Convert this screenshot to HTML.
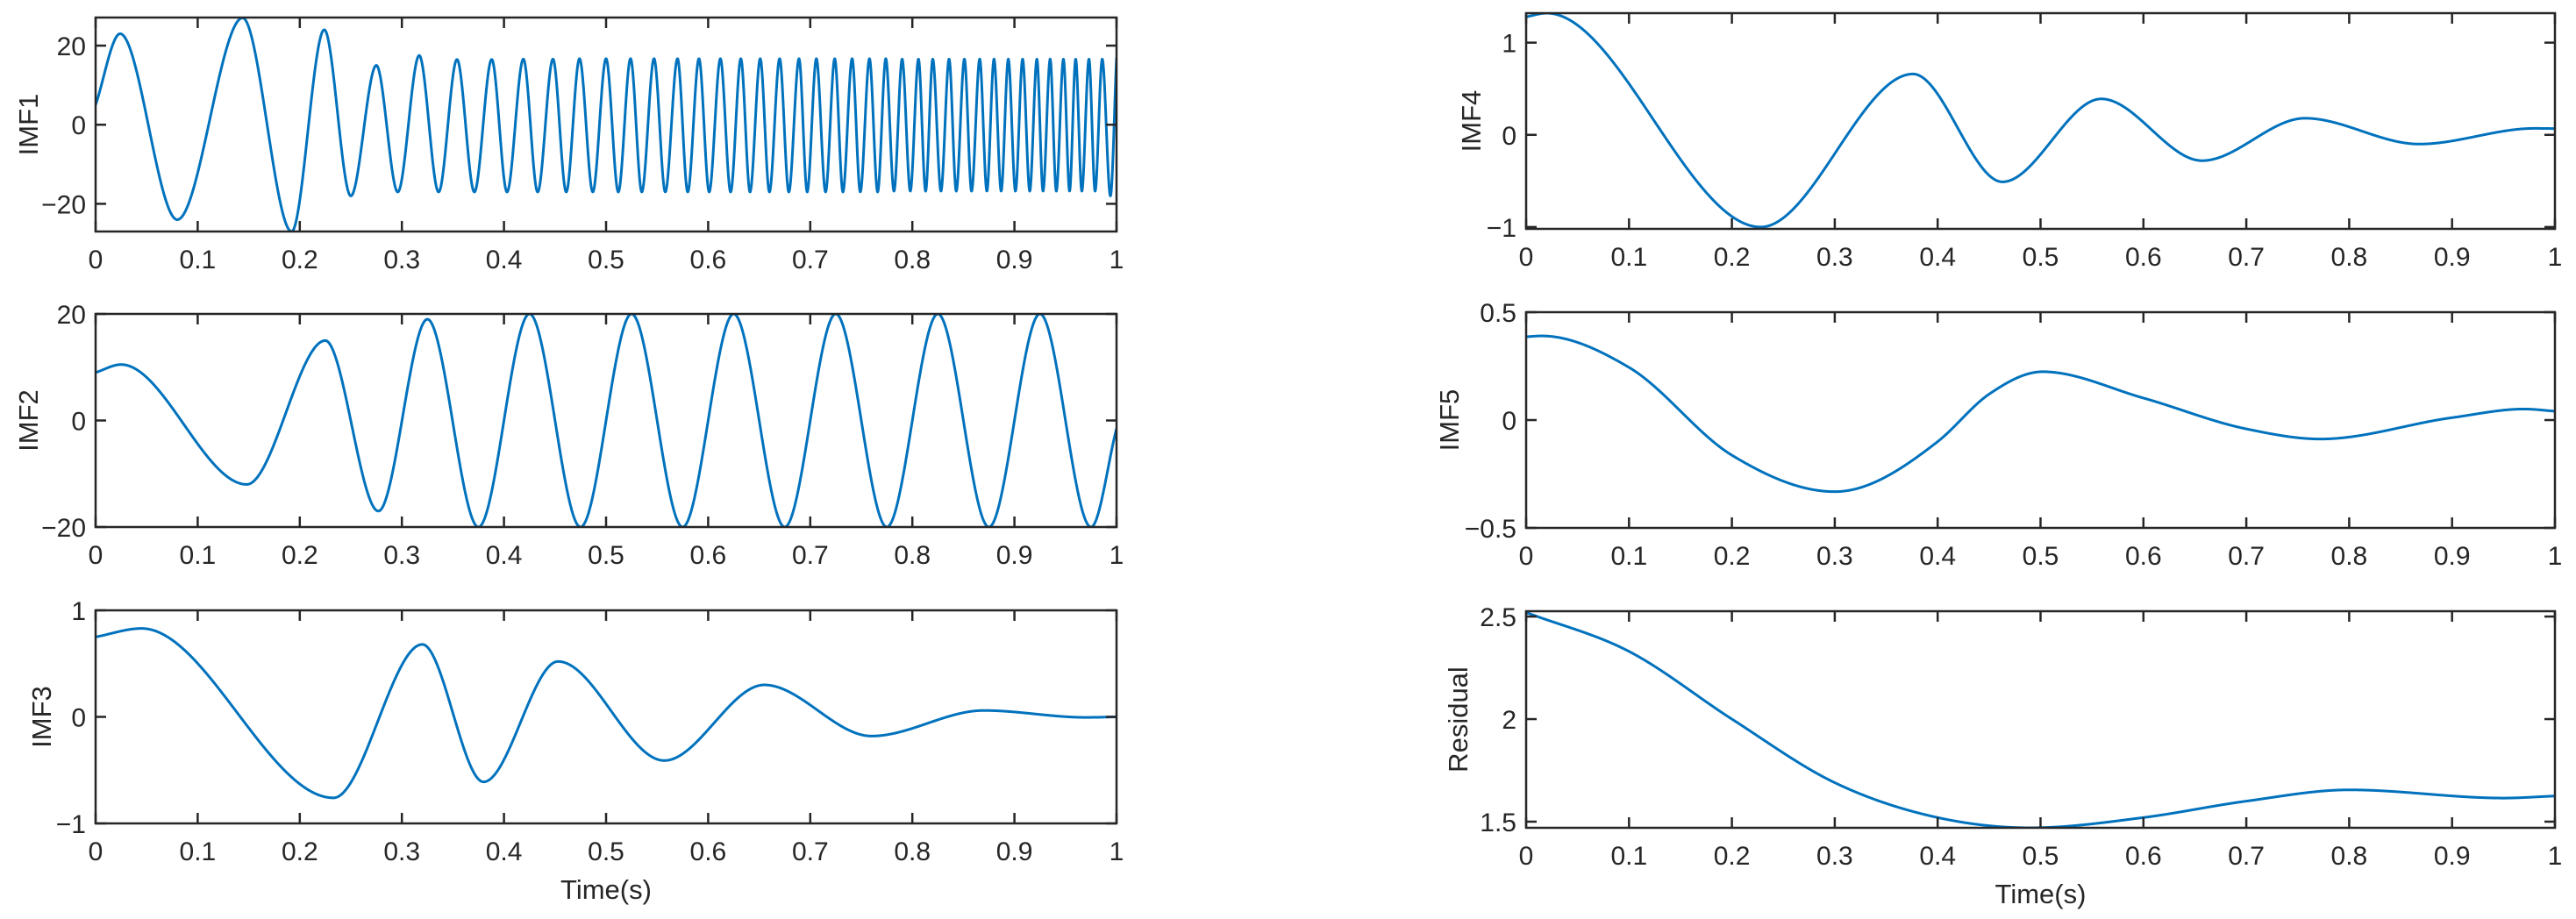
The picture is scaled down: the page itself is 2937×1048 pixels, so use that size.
<!DOCTYPE html>
<html><head><meta charset="utf-8">
<style>
html,body{margin:0;padding:0;background:#fff;}
svg{display:block;}
text{font-family:"Liberation Sans",Arial,sans-serif;fill:#262626;}
</style></head>
<body>
<svg id="fig" width="2937" height="1048" viewBox="0 0 2937 1048" xmlns="http://www.w3.org/2000/svg"></svg>
<script>
// ---- data (extrema and key points) ----
const xTicks = [0,0.1,0.2,0.3,0.4,0.5,0.6,0.7,0.8,0.9,1];
const xTickLabels = ["0","0.1","0.2","0.3","0.4","0.5","0.6","0.7","0.8","0.9","1"];

const imf1PeakT = [0.024,0.144,0.224,0.275,0.317,0.354,0.388,0.419,0.448,0.474,0.500,0.524,0.547,0.570,0.591,0.612,0.632,0.651,0.670,0.689,0.706,0.724,0.741,0.758,0.774,0.790,0.806,0.820,0.836,0.851,0.866,0.880,0.894,0.908,0.922,0.935,0.948,0.960,0.973,0.986];
const imf1PeakV = [23,27,24,15,17.5,16.5,16.5,16.6,16.6,16.7,16.7,16.7,16.7,16.7,16.7,16.7,16.7,16.7,16.7,16.7,16.7,16.7,16.7,16.7,16.7,16.6,16.6,16.6,16.6,16.6,16.6,16.6,16.6,16.6,16.6,16.6,16.6,16.6,16.6,16.6];
const imf1TroughT = [0.080,0.192,0.250,0.296,0.336,0.371,0.403,0.433,0.461,0.487,0.512,0.535,0.558,0.580,0.601,0.622,0.641,0.660,0.679,0.697,0.715,0.732,0.749,0.766,0.782,0.798,0.813,0.828,0.843,0.858,0.873,0.887,0.901,0.915,0.928,0.941,0.954,0.966,0.979,0.994];
const imf1TroughV = [-24,-27,-18,-17,-17,-17,-17,-17,-17,-17,-17,-17,-17,-17,-17,-17,-17,-17,-17,-17,-17,-17,-17,-17,-16.8,-16.8,-16.8,-16.8,-16.8,-16.8,-16.8,-16.8,-16.8,-16.8,-16.8,-16.8,-16.8,-16.8,-16.8,-18];
const imf1EndT = [0,1];
const imf1EndV = [5,17];

const imf2T = [0,0.025,0.148,0.225,0.277,0.325,0.375,0.425,0.475,0.525,0.575,0.625,0.675,0.725,0.775,0.825,0.875,0.925,0.975,1];
const imf2V = [9,10.5,-12,15,-17,19,-20,20,-20,20,-20,20,-20,20,-20,20,-20,20,-20,-1.5];

const imf3T = [0,0.045,0.233,0.320,0.380,0.453,0.557,0.655,0.760,0.870,0.97,1];
const imf3V = [0.75,0.83,-0.76,0.68,-0.61,0.52,-0.41,0.30,-0.18,0.06,-0.005,0.0];

const imf4T = [0,0.02,0.228,0.376,0.463,0.559,0.657,0.757,0.868,0.98,1];
const imf4V = [1.28,1.32,-1.0,0.66,-0.51,0.39,-0.28,0.18,-0.10,0.07,0.068];

const imf5T = [0,0.015,0.1,0.2,0.3,0.4,0.45,0.502,0.6,0.7,0.772,0.9,0.97,1];
const imf5V = [0.386,0.39,0.244,-0.163,-0.332,-0.10,0.12,0.224,0.102,-0.041,-0.088,0.011,0.051,0.041];

const resT = [0,0.1,0.2,0.3,0.4,0.49,0.6,0.7,0.8,0.95,1];
const resV = [2.52,2.33,2.0,1.69,1.52,1.47,1.52,1.60,1.655,1.615,1.625];

// ---- helpers ----
const NS="http://www.w3.org/2000/svg";
const svg=document.getElementById('fig');
function mk(tag,attrs,parent){const e=document.createElementNS(NS,tag);for(const k in attrs)e.setAttribute(k,attrs[k]);(parent||svg).appendChild(e);return e;}

function smoothCurve(ts,vs){
  const n=ts.length,d=[],m=new Array(n);
  for(let i=0;i<n-1;i++)d.push((vs[i+1]-vs[i])/(ts[i+1]-ts[i]));
  m[0]=d[0];m[n-1]=d[n-2];
  for(let i=1;i<n-1;i++){
    if(d[i-1]*d[i]<=0)m[i]=0;
    else{
      const h0=ts[i]-ts[i-1],h1=ts[i+1]-ts[i];
      let s=(d[i-1]*h1+d[i]*h0)/(h0+h1);
      const lim=3*Math.min(Math.abs(d[i-1]),Math.abs(d[i]));
      if(Math.abs(s)>lim)s=Math.sign(s)*lim;
      m[i]=s;
    }
  }
  return function(t){
    let i=0; while(i<n-2&&t>ts[i+1])i++;
    const h=ts[i+1]-ts[i],s=(t-ts[i])/h;
    const h00=2*s*s*s-3*s*s+1,h10=s*s*s-2*s*s+s,h01=-2*s*s*s+3*s*s,h11=s*s*s-s*s;
    return h00*vs[i]+h10*h*m[i]+h01*vs[i+1]+h11*h*m[i+1];
  };
}

function panel(cfg){
  const g=mk('g',{});
  
  
  const {x0,x1,y0,y1,ymin,ymax}=cfg;
  const X=t=>x0+(t-0)*(x1-x0);
  const Y=v=>y1-(v-ymin)/(ymax-ymin)*(y1-y0);
  const clipId='clip-'+cfg.name;
  const cp=mk('clipPath',{id:clipId},g);
  mk('rect',{x:x0,y:y0,width:x1-x0,height:y1-y0},cp);
  const f=smoothCurve(cfg.t,cfg.v);
  let d='';
  const steps=Math.round((x1-x0)*3);
  for(let i=0;i<=steps;i++){const t=i/steps;d+=(i?'L':'M')+X(t).toFixed(2)+' '+Y(f(t)).toFixed(2);}
  const line=mk('path',{d:d,fill:'none',stroke:'#0072BD','stroke-width':3,'stroke-linejoin':'round','clip-path':'url(#'+clipId+')'},g);
  
  
  const box=mk('rect',{x:x0,y:y0,width:x1-x0,height:y1-y0,fill:'none',stroke:'#262626','stroke-width':2.5},g);
  
  
  xTicks.forEach((t,i)=>{
    const x=X(t);
    mk('line',{x1:x,y1:y1,x2:x,y2:y1-12,stroke:'#262626','stroke-width':2.5},g);
    mk('line',{x1:x,y1:y0,x2:x,y2:y0+12,stroke:'#262626','stroke-width':2.5},g);
    const tx=mk('text',{x:x,y:y1+42,'font-size':30,'text-anchor':'middle'},g);
    tx.textContent=xTickLabels[i];
    
    
  });
  cfg.yTicks.forEach((v,i)=>{
    const y=Y(v);
    mk('line',{x1:x0,y1:y,x2:x0+12,y2:y,stroke:'#262626','stroke-width':2.5},g);
    mk('line',{x1:x1,y1:y,x2:x1-12,y2:y,stroke:'#262626','stroke-width':2.5},g);
    const ty=mk('text',{x:x0-11,y:y+11,'font-size':30,'text-anchor':'end'},g);
    ty.textContent=cfg.yTickLabels[i];
    
    
  });
  const cy=(y0+y1)/2;
  const yl=mk('text',{x:cfg.labelX,y:cy,'font-size':31,'text-anchor':'middle','transform':'rotate(-90 '+cfg.labelX+' '+cy+')','dy':11},g);
  yl.textContent=cfg.label;
  
  
  if(cfg.xlabel){
    const xl=mk('text',{x:(x0+x1)/2,y:y1+86,'font-size':31,'text-anchor':'middle'},g);
    xl.textContent=cfg.xlabel;
    
    
  }
}

const imf1Pts=[];
imf1EndT.forEach((t,i)=>imf1Pts.push([t,imf1EndV[i]]));
imf1PeakT.forEach((t,i)=>imf1Pts.push([t,imf1PeakV[i]]));
imf1TroughT.forEach((t,i)=>imf1Pts.push([t,imf1TroughV[i]]));
imf1Pts.sort((a,b)=>a[0]-b[0]);

const LX0=109,LX1=1273,RX0=1740,RX1=2913;
panel({name:'imf1',x0:LX0,x1:LX1,y0:20,y1:264,ymin:-27,ymax:27.1,t:imf1Pts.map(p=>p[0]),v:imf1Pts.map(p=>p[1]),yTicks:[-20,0,20],yTickLabels:["\u221220","0","20"],label:'IMF1',labelX:32});
panel({name:'imf2',x0:LX0,x1:LX1,y0:358,y1:601,ymin:-20,ymax:20,t:imf2T,v:imf2V,yTicks:[-20,0,20],yTickLabels:["\u221220","0","20"],label:'IMF2',labelX:32});
panel({name:'imf3',x0:LX0,x1:LX1,y0:696,y1:939,ymin:-1,ymax:1,t:imf3T,v:imf3V,yTicks:[-1,0,1],yTickLabels:["\u22121","0","1"],label:'IMF3',labelX:47,xlabel:'Time(s)'});
panel({name:'imf4',x0:RX0,x1:RX1,y0:15,y1:261,ymin:-1.02,ymax:1.32,t:imf4T,v:imf4V,yTicks:[-1,0,1],yTickLabels:["\u22121","0","1"],label:'IMF4',labelX:1677});
panel({name:'imf5',x0:RX0,x1:RX1,y0:356,y1:602,ymin:-0.5,ymax:0.5,t:imf5T,v:imf5V,yTicks:[-0.5,0,0.5],yTickLabels:["\u22120.5","0","0.5"],label:'IMF5',labelX:1652});
panel({name:'residual',x0:RX0,x1:RX1,y0:697,y1:944,ymin:1.47,ymax:2.526,t:resT,v:resV,yTicks:[1.5,2,2.5],yTickLabels:["1.5","2","2.5"],label:'Residual',labelX:1662,xlabel:'Time(s)'});
</script>
</body></html>
